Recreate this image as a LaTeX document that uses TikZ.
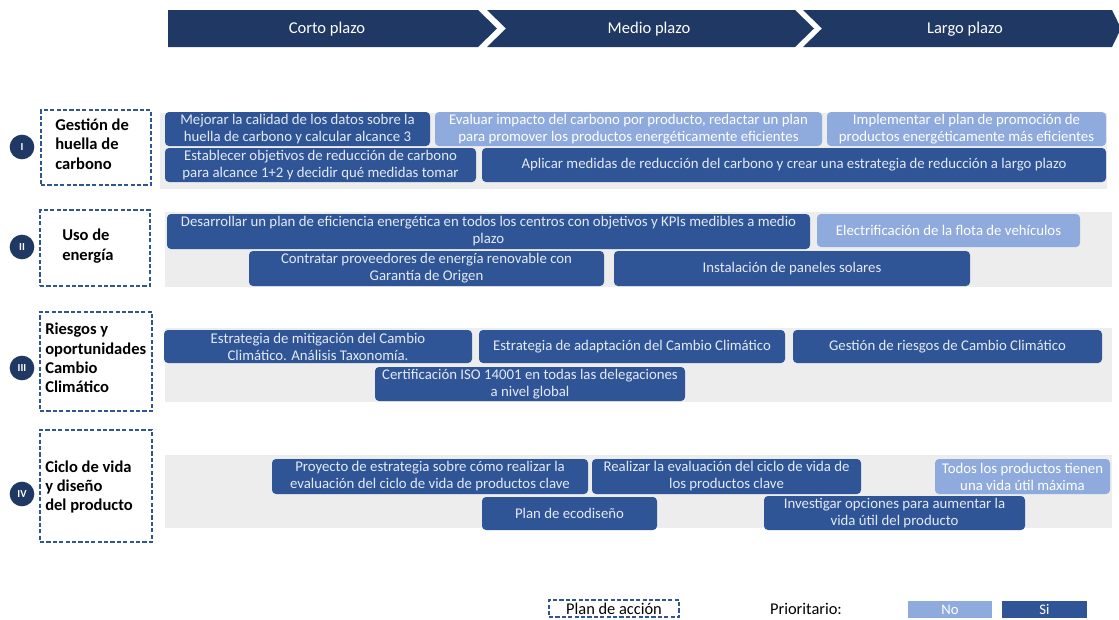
\documentclass[tikz,border=0pt]{standalone}
\usepackage{fontspec}
\setmainfont{Carlito}
\definecolor{navy}{HTML}{203864}
\definecolor{dkb}{HTML}{2F5597}
\definecolor{ltb}{HTML}{8FAADC}
\definecolor{band}{HTML}{EDEDED}
\definecolor{dashc}{HTML}{2F5597}
\definecolor{ink}{HTML}{E4EAF5}
\newcommand\bx[7]{\node[#2, minimum width={(#5-#3)*0.75pt}, minimum height={(#6-#4)*0.75pt}] (#1) at ({(#3+#5)/2},{(#4+#6)/2}) {#7};}
\tikzset{
  dk/.style={rounded corners=3pt, fill=dkb, text=ink, inner sep=0pt, align=center, font=\fontsize{11.1}{12.8}\selectfont},
  lt/.style={dk, fill=ltb, text=white},
  hdr/.style={text=white, font=\fontsize{12.4}{14}\selectfont},
  dashbox/.style={draw=dashc, line width=1.5pt, dash pattern=on 3.2pt off 1.6pt, inner sep=0pt},
  lbl/.style={anchor=west, align=left, inner sep=0pt, font=\bfseries\fontsize{12.4}{14.6}\selectfont},
  num/.style={circle, fill=navy, text=white, minimum size=18.5pt, inner sep=0pt, font=\bfseries\fontsize{8}{9}\selectfont},
  leg/.style={inner sep=0pt, font=\fontsize{12.3}{14}\selectfont},
  legbox/.style={inner sep=0pt, text=white, font=\fontsize{11}{12}\selectfont}
}
\begin{document}
\begin{tikzpicture}[x=0.75pt,y=-0.75pt]
\useasboundingbox (0,0) rectangle (1119,619);
% header chevrons
\fill[navy] (168,10) -- (478,10) -- (497,28.5) -- (478,47) -- (168,47) -- cycle;
\fill[navy] (487,10) -- (795,10) -- (814,28.5) -- (795,47) -- (487,47) -- (506,28.5) -- cycle;
\fill[navy] (803,10) -- (1112,10) -- (1121,28.5) -- (1112,47) -- (803,47) -- (822,28.5) -- cycle;
\node[hdr] (h1) at (327,29) {Corto plazo};
\node[hdr] (h2) at (649,29) {Medio plazo};
\node[hdr] (h3) at (965,29) {Largo plazo};
% bands
\fill[band] (160,113) rectangle (1107,189);
\fill[band] (165,212) rectangle (1112,287);
\fill[band] (165,328) rectangle (1112,402);
\fill[band] (165,455) rectangle (1112,528);
% row labels
\node[num] (n1) at (22,147) {I};
\bx{d1}{dashbox}{41}{110}{151}{185}{}
\node[lbl] (l1) at (55,144) {Gestión de\\huella de\\carbono};
\node[num] (n2) at (22,247) {II};
\bx{d2}{dashbox}{40}{210}{150}{286}{}
\node[lbl] (l2) at (62,246) {Uso de\\energía};
\node[num] (n3) at (22,368) {III};
\bx{d3}{dashbox}{40}{312}{152}{411}{}
\node[lbl] (l3) at (45,358) {Riesgos y\\oportunidades\\Cambio\\Climático};
\node[num] (n4) at (22,494) {IV};
\bx{d4}{dashbox}{40}{430}{152}{542}{}
\node[lbl] (l4) at (45,487) {Ciclo de vida\\y diseño\\del producto};
% row I
\bx{a1}{dk}{165}{112}{430}{146}{Mejorar la calidad de los datos sobre la\\huella de carbono y calcular alcance 3}
\bx{a2}{lt}{435}{112}{822}{146}{Evaluar impacto del carbono por producto, redactar un plan\\para promover los productos energéticamente eficientes}
\bx{a3}{lt}{827}{112}{1106}{146}{Implementar el plan de promoción de\\productos energéticamente más eficientes}
\bx{a4}{dk}{165}{148}{476}{182}{Establecer objetivos de reducción de carbono\\para alcance 1+2 y decidir qué medidas tomar}
\bx{a5}{dk}{482}{148}{1106}{182}{Aplicar medidas de reducción del carbono y crear una estrategia de reducción a largo plazo}
% row II
\bx{b1}{dk}{167}{214}{810}{249}{Desarrollar un plan de eficiencia energética en todos los centros con objetivos y KPIs medibles a medio\\plazo}
\bx{b2}{lt}{817}{214}{1080}{247}{Electrificación de la flota de vehículos}
\bx{b3}{dk}{249}{251}{604}{286}{Contratar proveedores de energía renovable con\\Garantía de Origen}
\bx{b4}{dk}{614}{251}{970}{286}{Instalación de paneles solares}
% row III
\bx{c1}{dk}{164}{330}{472}{363}{Estrategia de mitigación del Cambio\\Climático. Análisis Taxonomía.}
\bx{c2}{dk}{479}{330}{785}{363}{Estrategia de adaptación del Cambio Climático}
\bx{c3}{dk}{793}{330}{1102}{363}{Gestión de riesgos de Cambio Climático}
\bx{c4}{dk}{375}{367}{685}{401}{Certificación ISO 14001 en todas las delegaciones\\a nivel global}
% row IV
\bx{e1}{dk}{272}{459}{588}{494}{Proyecto de estrategia sobre cómo realizar la\\evaluación del ciclo de vida de productos clave}
\bx{e2}{dk}{592}{459}{861}{494}{Realizar la evaluación del ciclo de vida de\\los productos clave}
\bx{e3}{lt}{935}{459}{1110}{494}{Todos los productos tienen\\una vida útil máxima}
\bx{e4}{dk}{482}{497}{657}{530}{Plan de ecodiseño}
\bx{e5}{dk}{764}{496}{1025}{530}{Investigar opciones para aumentar la\\vida útil del producto}
% legend
\bx{g1}{dashbox, leg}{549}{600}{679}{617}{Plan de acción}
\node[leg] (g2) at (806,609) {Prioritario:};
\bx{g3}{legbox, fill=ltb}{908}{601}{992}{618}{No}
\bx{g4}{legbox, fill=dkb}{1002}{601}{1087}{618}{Si}
\end{tikzpicture}
\end{document}
